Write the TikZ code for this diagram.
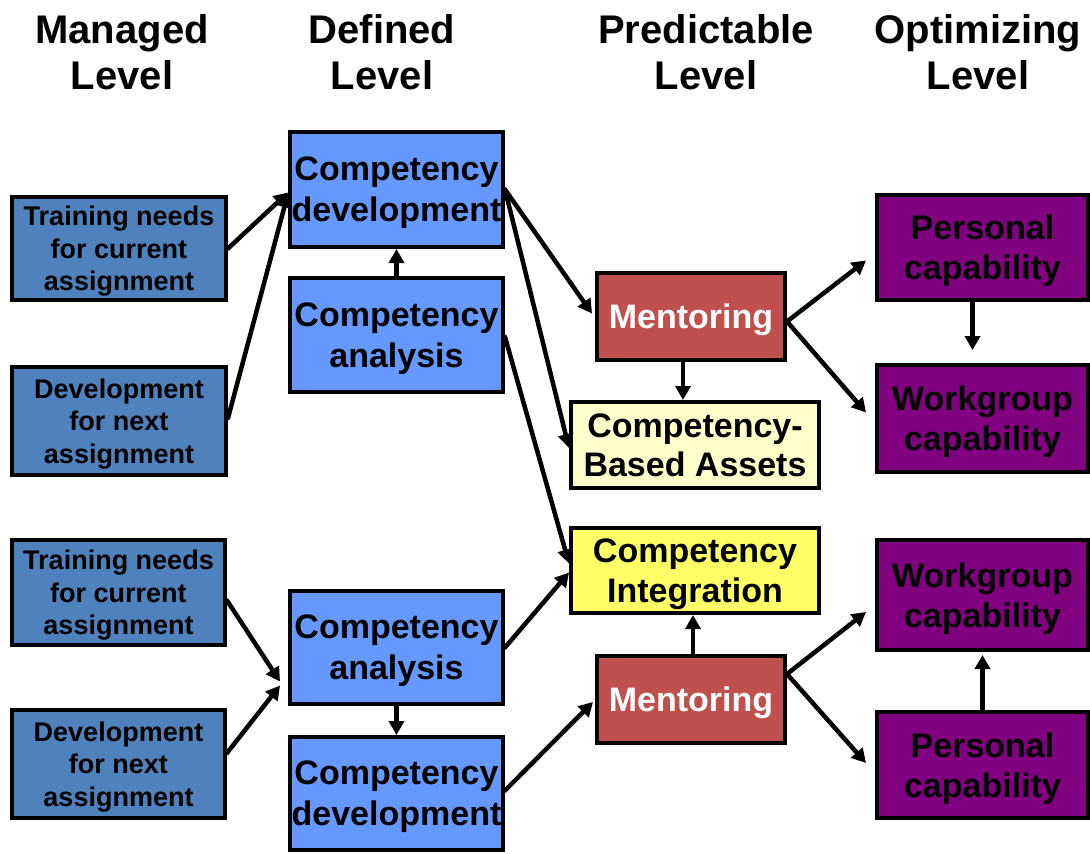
\documentclass[tikz,border=0pt]{standalone}
\usepackage{fontspec}
\setmainfont{Liberation Sans}
\usetikzlibrary{arrows.meta,calc}
\definecolor{mgblue}{HTML}{4F81BD}
\definecolor{dfblue}{HTML}{6699FF}
\definecolor{mred}{HTML}{C0504D}
\definecolor{cream}{HTML}{FFFFCC}
\definecolor{yel}{HTML}{FFFF66}
\definecolor{purp}{HTML}{800080}
\begin{document}
\begin{tikzpicture}[x=1pt,y=-1pt,
 box/.style={draw=black,line width=4pt,inner sep=0pt,align=center,text depth=0pt},
 mg/.style={box,fill=mgblue,minimum width=214pt,font=\bfseries\fontsize{27}{32.5}\selectfont},
 df/.style={box,fill=dfblue,minimum width=213pt,font=\bfseries\fontsize{34}{41}\selectfont},
 mt/.style={box,fill=mred,minimum width=188pt,text=white,font=\bfseries\fontsize{34}{41}\selectfont},
 cb/.style={box,fill=cream,minimum width=248pt,font=\bfseries\fontsize{34}{39.5}\selectfont},
 cin/.style={box,fill=yel,minimum width=248pt,font=\bfseries\fontsize{34}{39.5}\selectfont},
 pp/.style={box,fill=purp,minimum width=211pt,font=\bfseries\fontsize{34}{40}\selectfont},
 hdr/.style={font=\bfseries\fontsize{40}{46}\selectfont,align=center,inner sep=0pt},
 arr/.style={line width=4.5pt,line cap=round,-{Triangle[length=14pt,width=15pt]}},
]
\useasboundingbox[fill=white] (0,0) rectangle (1090,854);

\node[hdr] (h1) at (122,52.5) {Managed\\Level};
\node[hdr] (h2) at (382,52.5) {Defined\\Level};
\node[hdr] (h3) at (706,52.5) {Predictable\\Level};
\node[hdr] (h4) at (978,52.5) {Optimizing\\Level};

\node[mg,minimum height=103pt] (tn1) at (119,248.5) {Training needs\\for current\\assignment};
\node[mg,minimum height=108pt] (dn1) at (119,421) {Development\\for next\\assignment};
\node[df,minimum height=115pt] (cd1) at (396.5,189.5) {Competency\\development};
\node[df,minimum height=114pt] (ca1) at (396.5,335) {Competency\\analysis};
\node[mt,minimum height=87pt] (m1) at (691,316.5) {Mentoring};
\node[cb,minimum height=86pt] (cba) at (695,445) {Competency-\\Based Assets};
\node[cin,minimum height=85pt] (ci) at (695,570.5) {Competency\\Integration};
\node[mt,minimum height=87pt] (m2) at (691,699) {Mentoring};
\node[pp,minimum height=105pt] (pc1) at (982.5,247.5) {Personal\\capability};
\node[pp,minimum height=107pt] (wc1) at (982.5,418.5) {Workgroup\\capability};
\node[pp,minimum height=110pt] (wc2) at (982.5,595) {Workgroup\\capability};
\node[pp,minimum height=106pt] (pc2) at (982.5,765) {Personal\\capability};
\node[mg,minimum width=213pt,minimum height=105pt] (tn2) at (118.5,592.5) {Training needs\\for current\\assignment};
\node[mg,minimum width=213pt,minimum height=108pt] (dn2) at (118.5,764) {Development\\for next\\assignment};
\node[df,minimum height=113pt] (ca2) at (396.5,647.5) {Competency\\analysis};
\node[df,minimum height=113pt] (cd2) at (396.5,793.5) {Competency\\development};

% top half
\draw[arr] (tn1.east) -- ([yshift=-3pt]cd1.west);
\draw[arr] ([yshift=3pt]dn1.east) -- ([yshift=-4pt]cd1.west);
\draw[arr] (ca1.north) -- (cd1.south);
\draw[arr] (cd1.east) -- ([xshift=-3pt,yshift=3pt]m1.west);
\draw[arr] (cd1.east) -- ([yshift=-3pt]cba.west);
\draw[arr] ([yshift=-2pt]ca1.east) -- ([yshift=7pt]ci.west);
\draw[arr] ([xshift=-8pt]m1.south) -- ([xshift=-8pt]m1.south |- cba.north);
\draw[arr] ([yshift=-5pt]m1.east) -- ([xshift=-9pt,yshift=-13pt]pc1.west);
\draw[arr] ([yshift=-5pt]m1.east) -- ([xshift=-9pt,yshift=6pt]wc1.west);
\draw[arr] ([xshift=-10pt]pc1.south) -- ([xshift=-10pt,yshift=13pt]wc1.north);

% bottom half
\draw[arr] ([yshift=-8pt]tn2.east) -- ([xshift=-8pt,yshift=-34pt]ca2.west);
\draw[arr] ([yshift=11pt]dn2.east) -- ([xshift=-8pt,yshift=-38pt]ca2.west);
\draw[arr] (ca2.east) -- ([yshift=-2pt]ci.west);
\draw[arr] (ca2.south) -- (cd2.north);
\draw[arr] ([yshift=3pt]cd2.east) -- ([xshift=-2pt,yshift=-3pt]m2.west);
\draw[arr] ([xshift=2pt]m2.north) -- ([xshift=2pt]m2.north |- ci.south);
\draw[arr] ([yshift=25pt]m2.east) -- ([xshift=-9pt,yshift=-17pt]wc2.west);
\draw[arr] ([yshift=25pt]m2.east) -- ([xshift=-9pt,yshift=2pt]pc2.west);
\draw[arr] (pc2.north) -- ([yshift=-3pt]wc2.south);
\end{tikzpicture}
\end{document}
